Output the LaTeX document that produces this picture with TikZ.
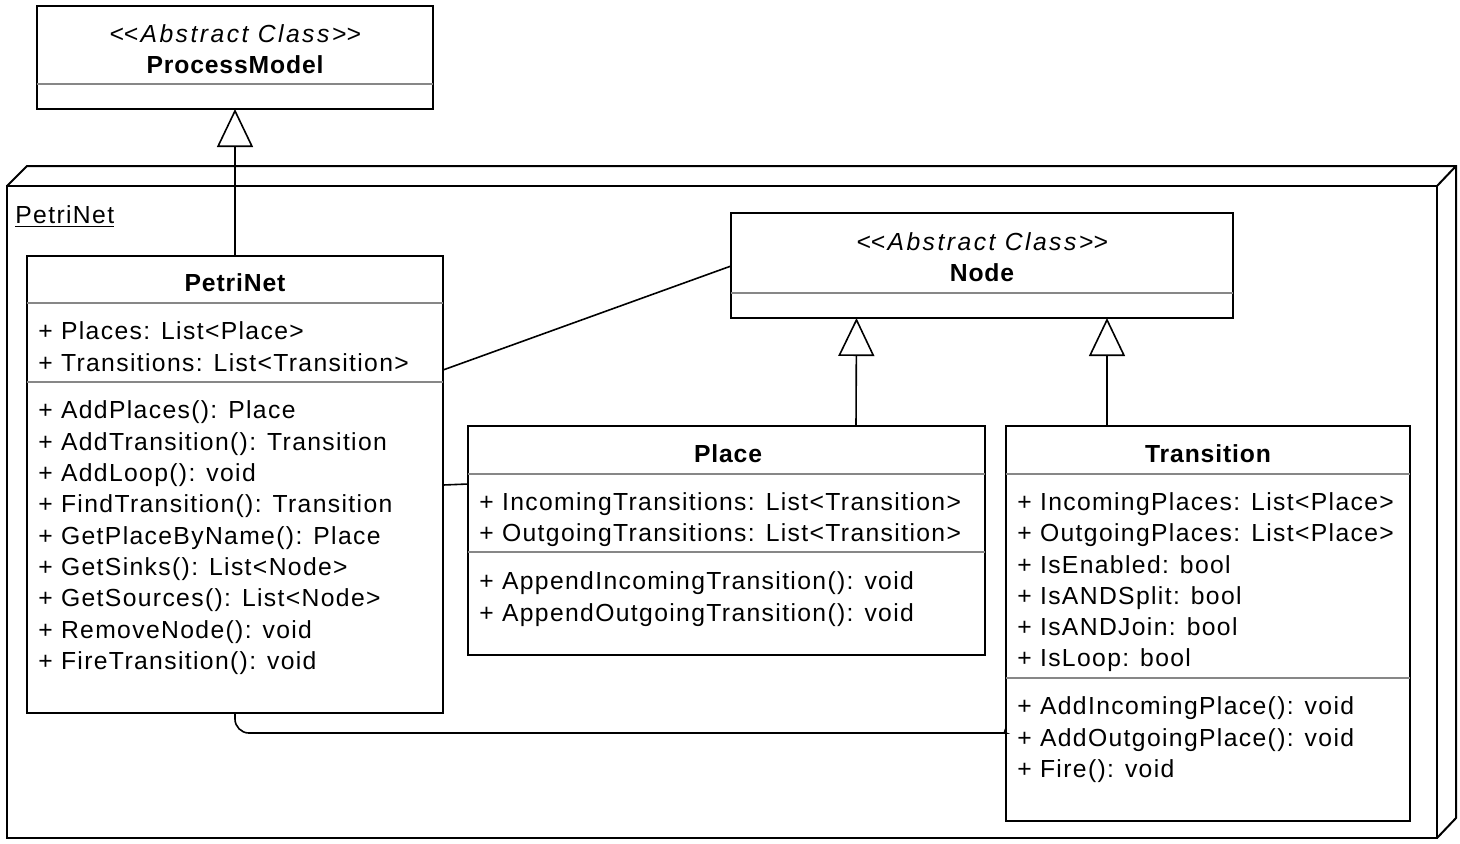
\documentclass[tikz,border=0pt]{standalone}
\usepackage{fontspec}
\setmainfont{Liberation Sans}[LetterSpace=5.5, BoldFeatures={LetterSpace=3.5}, ItalicFeatures={LetterSpace=10}]
\usetikzlibrary{arrows.meta,calc}
\definecolor{divgray}{RGB}{135,135,135}
\begin{document}
\begin{tikzpicture}[x=0.5pt,y=-0.5pt,
  box/.style={draw, line width=1pt, fill=white, inner sep=0pt, outer sep=0pt, anchor=north west},
  div/.style={draw=divgray, line width=0.8pt},
  txt/.style={anchor=base west, inner sep=0pt, font=\fontsize{12.35}{15}\selectfont},
  ttl/.style={anchor=base, inner sep=0pt, font=\fontsize{12.35}{15}\selectfont\bfseries},
  ster/.style={anchor=base, inner sep=0pt, font=\fontsize{12.35}{15}\selectfont\itshape},
  conn/.style={line width=0.8pt},
  gen/.style={conn, -{Triangle[open, length=19pt, width=18pt, line width=0.8pt]}}]
\useasboundingbox (0,0) rectangle (1460,843);

% package
\node[box, minimum width=715pt, minimum height=326pt] (pkg) at (7,186) {};
\coordinate (pkgtl) at (27,166);
\coordinate (pkgtr) at (1456,166);
\coordinate (pkgbr) at (1456,818);
\draw[line width=1pt] (pkg.north west) -- (pkgtl) -- (pkgtr) -- (pkgbr) -- (pkg.south east);
\draw[line width=1pt] (pkg.north east) -- (pkgtr);
\node[txt] (pkglbl) at (15,223) {\underline{PetriNet}};

% ProcessModel
\node[box, minimum width=198pt, minimum height=51.5pt] (pm) at (37,6) {};
\draw[div] (37,84) -- (433,84);
\node[ster] (pmst) at (235,42) {<\kern0pt<Abstract Class>\kern0pt>};
\node[ttl] (pmname) at (235,73) {ProcessModel};

% PetriNet class
\node[box, minimum width=208pt, minimum height=228.5pt] (pn) at (27,256) {};
\node[ttl] (pnname) at (235,291) {PetriNet};
\draw[div] (27,303) -- (443,303);
\draw[div] (27,382) -- (443,382);
\node[txt] (pna1) at (38,339) {+ Places: List<Place>};
\node[txt] (pna2) at (38,371) {+ Transitions: List<Transition>};
\node[txt] (pnm1) at (38,418) {+ AddPlaces(): Place};
\node[txt] (pnm2) at (38,450) {+ AddTransition(): Transition};
\node[txt] (pnm3) at (38,481) {+ AddLoop(): void};
\node[txt] (pnm4) at (38,512) {+ FindTransition(): Transition};
\node[txt] (pnm5) at (38,544) {+ GetPlaceByName(): Place};
\node[txt] (pnm6) at (38,575) {+ GetSinks(): List<Node>};
\node[txt] (pnm7) at (38,606) {+ GetSources(): List<Node>};
\node[txt] (pnm8) at (38,638) {+ RemoveNode(): void};
\node[txt] (pnm9) at (38,669) {+ FireTransition(): void};

% Node
\node[box, minimum width=251pt, minimum height=52.5pt] (nd) at (731,213) {};
\draw[div] (731,293) -- (1233,293);
\node[ster] (ndst) at (982,250) {<\kern0pt<Abstract Class>\kern0pt>};
\node[ttl] (ndname) at (982,281) {Node};

% Place
\node[box, minimum width=258.5pt, minimum height=114.5pt] (pl) at (468,426) {};
\node[ttl] (plname) at (728,462) {Place};
\draw[div] (468,474) -- (985,474);
\draw[div] (468,552) -- (985,552);
\node[txt] (pla1) at (479,510) {+ IncomingTransitions: List<Transition>};
\node[txt] (pla2) at (479,541) {+ OutgoingTransitions: List<Transition>};
\node[txt] (plm1) at (479,589) {+ AppendIncomingTransition(): void};
\node[txt] (plm2) at (479,621) {+ AppendOutgoingTransition(): void};

% Transition
\node[box, minimum width=202pt, minimum height=197.5pt] (tr) at (1006,426) {};
\node[ttl] (trname) at (1208,462) {Transition};
\draw[div] (1006,474) -- (1410,474);
\draw[div] (1006,678) -- (1410,678);
\node[txt] (tra1) at (1017,510) {+ IncomingPlaces: List<Place>};
\node[txt] (tra2) at (1017,541) {+ OutgoingPlaces: List<Place>};
\node[txt] (tra3) at (1017,573) {+ IsEnabled: bool};
\node[txt] (tra4) at (1017,604) {+ IsANDSplit: bool};
\node[txt] (tra5) at (1017,635) {+ IsANDJoin: bool};
\node[txt] (tra6) at (1017,666) {+ IsLoop: bool};
\node[txt] (trm1) at (1017,714) {+ AddIncomingPlace(): void};
\node[txt] (trm2) at (1017,746) {+ AddOutgoingPlace(): void};
\node[txt] (trm3) at (1017,777) {+ Fire(): void};

% connectors
\draw[gen] (pn.north) -- (pm.south);
\draw[conn] ($(pn.north east)+(0,114)$) -- ($(nd.north west)+(0,53)$);
\draw[gen] ($(pl.north west)+(388,0)$) -- ($(nd.south west)+(125.5,0)$);
\draw[gen] ($(tr.north west)+(101,0)$) -- ($(nd.south west)+(376,0)$);
\draw[conn] ($(pn.north east)+(0,229)$) -- ($(pl.north west)+(0,58)$);
\coordinate (bend) at ($(tr.north west)+(-14,307)$);
\draw[conn, rounded corners=7pt] (pn.south) |- (bend) .. controls ($(tr.north west)+(-2,307)$) .. ($(tr.north west)+(0,302)$);
\end{tikzpicture}
\end{document}
